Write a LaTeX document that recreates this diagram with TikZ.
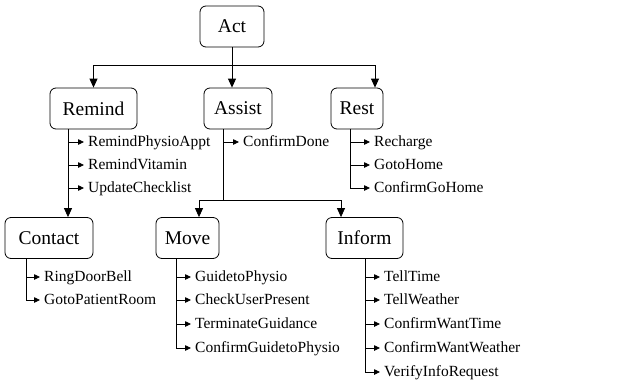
\documentclass[tikz,border=0pt]{standalone}
\usepackage{fontspec}
\setmainfont{Liberation Serif}
\usetikzlibrary{arrows.meta, positioning}

\begin{document}
\begin{tikzpicture}[x=1pt, y=-1pt,
        box/.style={rectangle, draw, rounded corners=6pt, minimum height=41pt, inner sep=0pt, line width=0.8pt, font=\fontsize{19.5}{22}\selectfont},
        item/.style={anchor=west, inner sep=4pt, text height=11pt, text depth=2pt, font=\fontsize{15.5}{18}\selectfont},
        arrow/.style={-{Triangle[length=9pt, width=8pt]}, line width=0.8pt},
        sub/.style={-{Triangle[length=6pt, width=5.5pt]}, line width=0.8pt}
    ]
        \useasboundingbox (0,0) rectangle (634,386);

        % Top
        \node[box, minimum width=64pt] (act) at (232,26.5) {Act};
        \coordinate (split) at (232,65);

        % First level
        \node[box, minimum width=87pt] (remind) at (93.5,108.5) {Remind};
        \node[box, minimum width=68pt] (assist) at (238,108.5) {Assist};
        \node[box, minimum width=52pt] (rest) at (357,108.5) {Rest};

        % Second level
        \node[box, minimum width=88pt] (contact) at (49,238) {Contact};
        \node[box, minimum width=63pt] (move) at (187.5,238) {Move};
        \node[box, minimum width=77pt] (inform) at (364.5,238) {Inform};

        % Stems
        \coordinate (remindstem) at (68,129);
        \coordinate (assiststem) at (223,129);
        \coordinate (reststem) at (350,129);
        \coordinate (contactstem) at (26,259);
        \coordinate (movestem) at (176,259);
        \coordinate (informstem) at (365,259);
        \coordinate (asplit) at (223,200);

        % Actions
        \node[item] (rpa) at (84,142) {RemindPhysioAppt};
        \node[item] (rv) at (84,165) {RemindVitamin};
        \node[item] (uc) at (84,188) {UpdateChecklist};
        \node[item] (cd) at (239,142) {ConfirmDone};
        \node[item] (rc) at (370,142) {Recharge};
        \node[item] (gh) at (370,165) {GotoHome};
        \node[item] (cgh) at (370,188) {ConfirmGoHome};
        \node[item] (rdb) at (40,277) {RingDoorBell};
        \node[item] (gpr) at (40,300) {GotoPatientRoom};
        \node[item] (gp) at (191,277) {GuidetoPhysio};
        \node[item] (cup) at (191,300) {CheckUserPresent};
        \node[item] (tg) at (191,324) {TerminateGuidance};
        \node[item] (cgp) at (191,348) {ConfirmGuidetoPhysio};
        \node[item] (tt) at (380,277) {TellTime};
        \node[item] (tw) at (380,300) {TellWeather};
        \node[item] (cwt) at (380,324) {ConfirmWantTime};
        \node[item] (cww) at (380,348) {ConfirmWantWeather};
        \node[item] (vir) at (380,372) {VerifyInfoRequest};

        % Arrows
        \draw[line width=0.8pt] (act.south) -- (split);
        \draw[arrow] (split) -| (remind.north);
        \draw[arrow] (split) -- (split |- assist.north);
        \draw[arrow] (split) -| ([xshift=18pt]rest.north);
        \draw[arrow] (remindstem) -- (remindstem |- contact.north);
        \draw[line width=0.8pt] (assiststem) -- (asplit);
        \draw[arrow] (asplit) -| ([xshift=11.5pt]move.north);
        \draw[arrow] (asplit) -| ([xshift=-23.5pt]inform.north);

        \draw[sub] (remindstem) |- (rpa.west);
        \draw[sub] (remindstem) |- (rv.west);
        \draw[sub] (remindstem) |- (uc.west);
        \draw[sub] (assiststem) |- (cd.west);
        \draw[sub] (reststem) |- (rc.west);
        \draw[sub] (reststem) |- (gh.west);
        \draw[sub] (reststem) |- (cgh.west);
        \draw[sub] (contactstem) |- (rdb.west);
        \draw[sub] (contactstem) |- (gpr.west);
        \draw[sub] (movestem) |- (gp.west);
        \draw[sub] (movestem) |- (cup.west);
        \draw[sub] (movestem) |- (tg.west);
        \draw[sub] (movestem) |- (cgp.west);
        \draw[sub] (informstem) |- (tt.west);
        \draw[sub] (informstem) |- (tw.west);
        \draw[sub] (informstem) |- (cwt.west);
        \draw[sub] (informstem) |- (cww.west);
        \draw[sub] (informstem) |- (vir.west);
    \end{tikzpicture}
\end{document}
